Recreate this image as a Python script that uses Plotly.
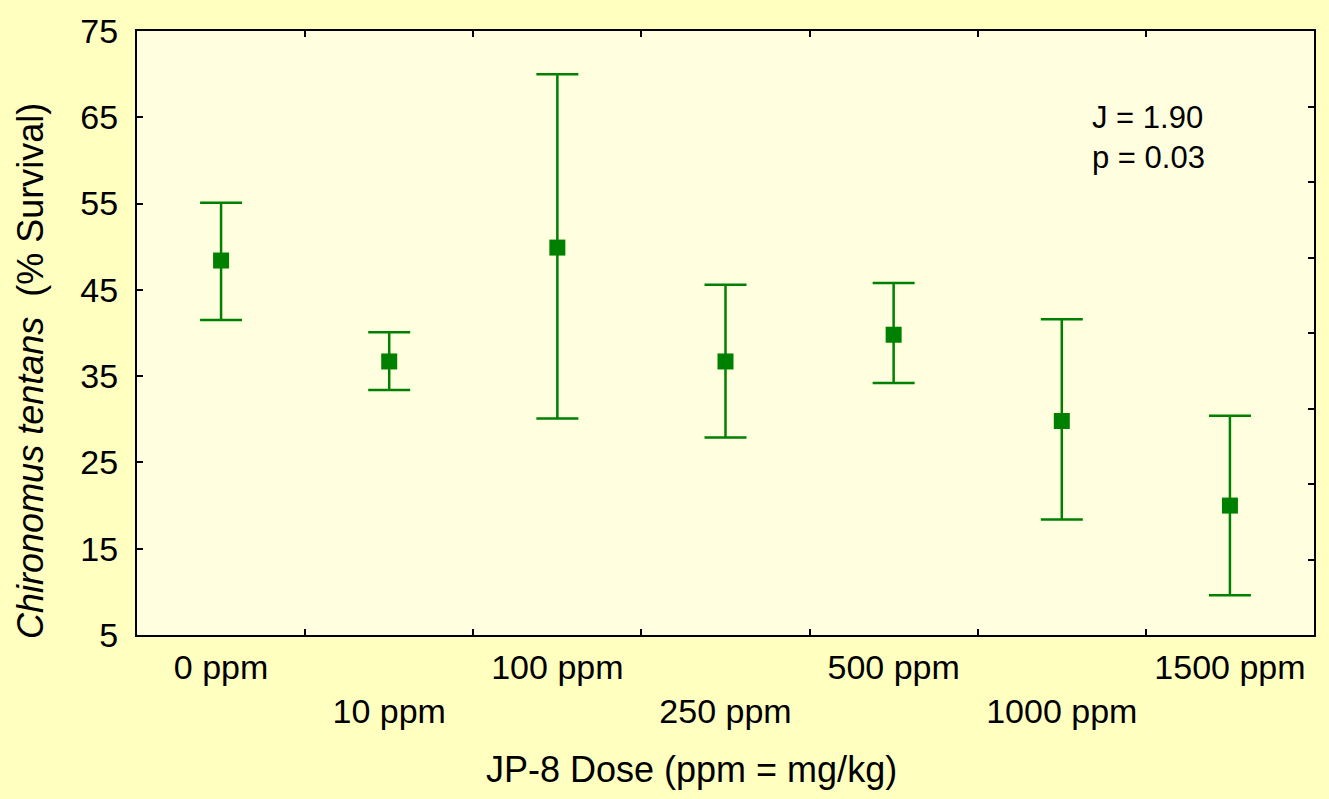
import plotly.graph_objects as go

categories = ["0 ppm", "10 ppm", "100 ppm", "250 ppm", "500 ppm", "1000 ppm", "1500 ppm"]
mean_survival = [48.4, 36.7, 49.9, 36.7, 39.8, 29.8, 20.0]
upper_limit = [55.1, 40.1, 70.0, 45.6, 45.8, 41.6, 30.4]
lower_limit = [41.5, 33.4, 30.1, 27.9, 34.2, 18.4, 9.6]
y_ticks = [5, 15, 25, 35, 45, 55, 65, 75]
stats_text = ["J = 1.90", "p = 0.03"]

positions = list(range(len(categories)))
err_plus = [u - m for u, m in zip(upper_limit, mean_survival)]
err_minus = [m - l for m, l in zip(mean_survival, lower_limit)]
# alternate label rows
tick_text = [c if i % 2 == 0 else "<br>" + c for i, c in enumerate(categories)]

GREEN = "#008000"
FONT = "Liberation Sans, Arial, sans-serif"

fig = go.Figure()
fig.add_trace(go.Scatter(
    x=positions, y=mean_survival, mode="markers",
    marker=dict(symbol="square", size=16, color=GREEN),
    error_y=dict(type="data", symmetric=False, array=err_plus, arrayminus=err_minus,
                 color=GREEN, thickness=2.5, width=21),
    showlegend=False,
))
# invisible trace to activate label axis
fig.add_trace(go.Scatter(x=positions, y=mean_survival, xaxis="x2", mode="markers",
                         marker=dict(opacity=0), showlegend=False, hoverinfo="skip"))
fig.add_trace(go.Scatter(x=[None], y=[None], yaxis="y2", showlegend=False))

rng = [-0.5, len(categories) - 0.5]
fig.update_layout(
    width=1329, height=799,
    margin=dict(l=137, r=15, t=29, b=164),
    paper_bgcolor="#FFFFC0",
    plot_bgcolor="#FFFFE0",
    font=dict(family=FONT, color="black", size=34),
    xaxis=dict(range=rng, tickvals=[p + 0.5 for p in positions[:-1]], ticks="inside",
               ticklen=6, tickwidth=2, tickcolor="black", showticklabels=False,
               showline=True, linecolor="black", linewidth=2, mirror="ticks",
               showgrid=False, zeroline=False),
    xaxis2=dict(range=rng, overlaying="x", side="bottom", anchor="y",
                tickvals=positions, ticktext=tick_text, ticks="",
                showline=False, showgrid=False, zeroline=False,
                tickfont=dict(size=34), ticklabelstandoff=9),
    yaxis=dict(range=[5, 75], tickvals=y_ticks, ticks="inside", ticklen=6, tickwidth=2,
               tickcolor="black", showline=True, linecolor="black", linewidth=2,
               mirror=True, showgrid=False, zeroline=False,
               tickfont=dict(size=34), ticklabelstandoff=10),
    yaxis2=dict(range=[0, 8], overlaying="y", side="right", tickvals=list(range(1, 8)),
                ticks="inside", ticklen=6, tickwidth=2, tickcolor="black",
                showticklabels=False, showline=False, showgrid=False, zeroline=False),
)

fig.add_annotation(text="<i>Chironomus tentans</i>  (% Survival)", xref="paper", yref="paper",
                   x=-0.091, y=0.437, textangle=-90, showarrow=False,
                   font=dict(size=36), xanchor="center", yanchor="middle")
fig.add_annotation(text="JP-8 Dose (ppm = mg/kg)", xref="paper", yref="paper",
                   x=0.471, y=-0.222, showarrow=False, font=dict(size=36),
                   xanchor="center", yanchor="middle")
fig.add_annotation(text="<br>".join(stats_text), xref="paper", yref="paper",
                   x=0.81, y=0.889, showarrow=False, align="left",
                   font=dict(size=31), xanchor="left", yanchor="top")

fig.write_html("out.html", config={"displayModeBar": False},
               post_script="document.body.style.margin='0';document.body.style.overflow='hidden';")
